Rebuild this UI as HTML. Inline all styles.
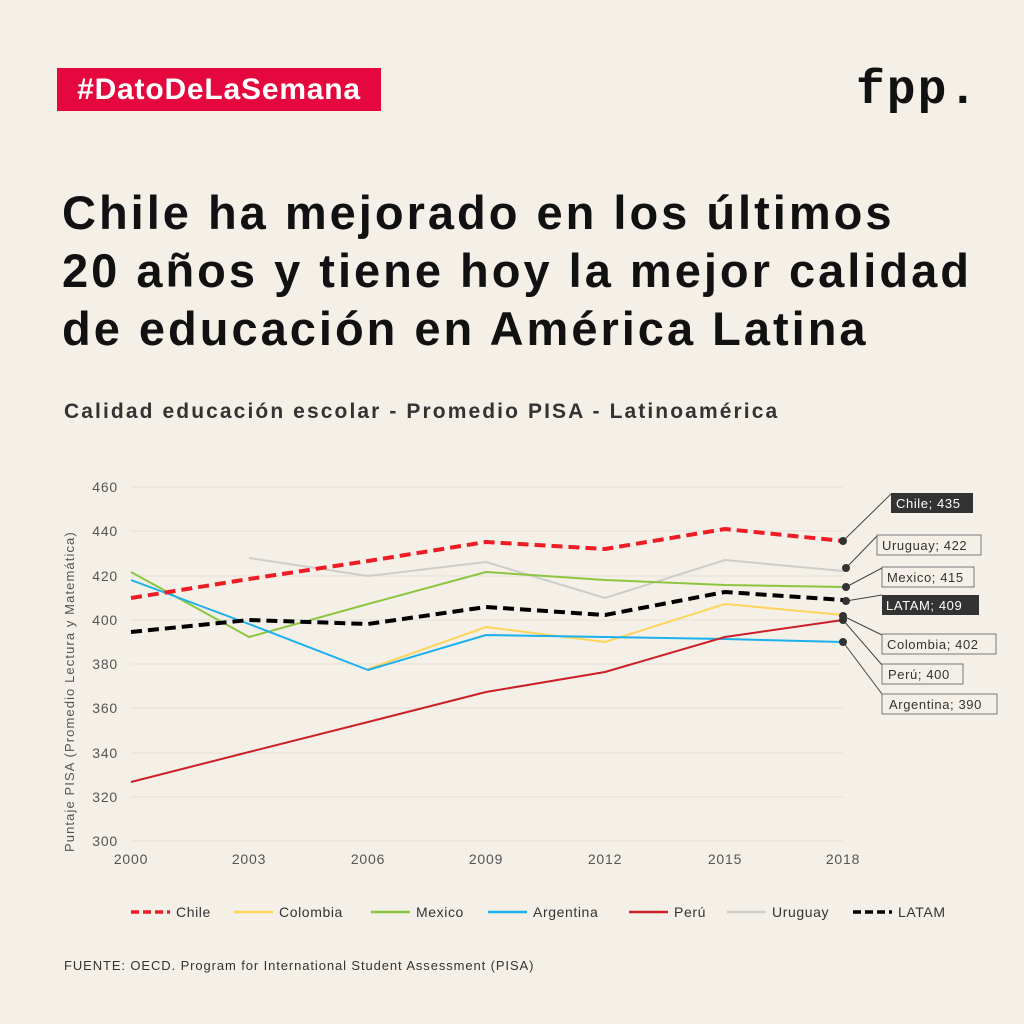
<!DOCTYPE html>
<html><head><meta charset="utf-8"><style>
body{margin:0;width:1024px;height:1024px;background:#f4f0e8;font-family:"Liberation Sans",sans-serif;position:relative;overflow:hidden}
.tag{position:absolute;left:57px;top:68px;width:324px;height:43px;background:#e5083f;color:#fff;font-weight:bold;font-size:30px;letter-spacing:0.8px;line-height:43px;text-align:center}
.logo{position:absolute;left:856px;top:64px;font-family:"Liberation Mono",monospace;font-weight:bold;font-size:48px;letter-spacing:2px;color:#111}
h1{position:absolute;left:62px;top:184px;margin:0;font-size:47px;letter-spacing:3px;line-height:58px;font-weight:bold;color:#111;white-space:nowrap}
.sub{position:absolute;left:64px;top:400px;font-size:21px;letter-spacing:2.1px;font-weight:bold;color:#333;white-space:nowrap}
.src{position:absolute;left:64px;top:958px;font-size:13px;letter-spacing:0.9px;color:#333;white-space:nowrap}
</style></head><body>
<div class="tag">#DatoDeLaSemana</div>
<div class="logo">fpp.</div>
<h1>Chile ha mejorado en los últimos<br>20 años y tiene hoy la mejor calidad<br>de educación en América Latina</h1>
<div class="sub">Calidad educación escolar - Promedio PISA - Latinoamérica</div>
<svg width="1024" height="1024" style="position:absolute;left:0;top:0" font-family="Liberation Sans, sans-serif">
<g stroke="#e4e0d8" stroke-width="1">
<line x1="131" x2="843" y1="487" y2="487"/><line x1="131" x2="843" y1="531" y2="531"/><line x1="131" x2="843" y1="576" y2="576"/><line x1="131" x2="843" y1="620" y2="620"/><line x1="131" x2="843" y1="664" y2="664"/><line x1="131" x2="843" y1="708" y2="708"/><line x1="131" x2="843" y1="753" y2="753"/><line x1="131" x2="843" y1="797" y2="797"/><line x1="131" x2="843" y1="841" y2="841"/>
</g>
<g font-size="14" letter-spacing="0.8" fill="#555" text-anchor="end">
<text x="118" y="492">460</text><text x="118" y="536">440</text><text x="118" y="581">420</text><text x="118" y="625">400</text><text x="118" y="669">380</text><text x="118" y="713">360</text><text x="118" y="758">340</text><text x="118" y="802">320</text><text x="118" y="846">300</text>
</g>
<g font-size="14" letter-spacing="0.8" fill="#555" text-anchor="middle">
<text x="131" y="864">2000</text><text x="249" y="864">2003</text><text x="368" y="864">2006</text><text x="486" y="864">2009</text><text x="605" y="864">2012</text><text x="725" y="864">2015</text><text x="843" y="864">2018</text>
</g>
<text transform="translate(74,852) rotate(-90)" font-size="13" letter-spacing="1.1" fill="#555">Puntaje PISA (Promedio Lectura y Matemática)</text>
<g fill="none" stroke-linejoin="round">
<polyline stroke="#cfcdca" stroke-width="2" points="249,558 368,576 486,562 605,598 725,560 843,571"/>
<polyline stroke="#ffd45a" stroke-width="2" points="368,669 486,627 605,642 725,604 843,615"/>
<polyline stroke="#8cc63f" stroke-width="2" points="131,572 249,637 368,604 486,572 605,580 725,585 843,587"/>
<polyline stroke="#1ab0ec" stroke-width="2" points="131,580 249,624 368,670 486,635 605,637 725,639 843,642"/>
<polyline stroke="#cc2027" stroke-width="2" points="131,782 249,752 368,722 486,692 605,672 725,637 843,620"/>
<polyline stroke="#000" stroke-width="4" stroke-dasharray="11,6" points="131,632 249,620 368,624 486,607 605,615 725,592 843,600"/>
<polyline stroke="#ee1c25" stroke-width="4" stroke-dasharray="11,6" points="131,598 249,579 368,561 486,542 605,549 725,529 843,541"/>
</g>
<g stroke="#444" stroke-width="1" fill="none">
<polyline points="843,541 891,494"/><polyline points="846,568 878,535"/><polyline points="846,587 882,568"/><polyline points="846,601 882,595"/><polyline points="843,616 882,635"/><polyline points="843,620 882,665"/><polyline points="843,642 882,694"/>
</g>
<g fill="#333">
<circle cx="843" cy="541" r="4"/><circle cx="846" cy="568" r="4"/><circle cx="846" cy="587" r="4"/><circle cx="846" cy="601" r="4"/><circle cx="843" cy="616" r="4"/><circle cx="843" cy="620" r="4"/><circle cx="843" cy="642" r="4"/>
</g>
<g font-size="13" letter-spacing="0.6">
<rect x="891" y="493" width="82" height="20" fill="#333"/><text x="896" y="508" fill="#fff">Chile; 435</text>
<rect x="877" y="535" width="104" height="20" fill="#f4f0e8" stroke="#777"/><text x="882" y="550" fill="#333">Uruguay; 422</text>
<rect x="882" y="567" width="92" height="20" fill="#f4f0e8" stroke="#777"/><text x="887" y="582" fill="#333">Mexico; 415</text>
<rect x="882" y="595" width="97" height="20" fill="#333"/><text x="886" y="610" fill="#fff">LATAM; 409</text>
<rect x="882" y="634" width="114" height="20" fill="#f4f0e8" stroke="#777"/><text x="887" y="649" fill="#333">Colombia; 402</text>
<rect x="882" y="664" width="81" height="20" fill="#f4f0e8" stroke="#777"/><text x="888" y="679" fill="#333">Perú; 400</text>
<rect x="882" y="694" width="115" height="20" fill="#f4f0e8" stroke="#777"/><text x="889" y="709" fill="#333">Argentina; 390</text>
</g>
<g stroke-width="2.5">
<line x1="131" x2="170" y1="912" y2="912" stroke="#ee1c25" stroke-width="3.5" stroke-dasharray="8,4"/>
<line x1="234" x2="273" y1="912" y2="912" stroke="#ffd45a"/>
<line x1="371" x2="410" y1="912" y2="912" stroke="#8cc63f"/>
<line x1="488" x2="527" y1="912" y2="912" stroke="#1ab0ec"/>
<line x1="629" x2="668" y1="912" y2="912" stroke="#cc2027"/>
<line x1="727" x2="766" y1="912" y2="912" stroke="#cfcdca"/>
<line x1="853" x2="892" y1="912" y2="912" stroke="#000" stroke-width="3.5" stroke-dasharray="8,4"/>
</g>
<g font-size="14" letter-spacing="0.6" fill="#333">
<text x="176" y="917">Chile</text><text x="279" y="917">Colombia</text><text x="416" y="917">Mexico</text><text x="533" y="917">Argentina</text><text x="674" y="917">Perú</text><text x="772" y="917">Uruguay</text><text x="898" y="917">LATAM</text>
</g>
</svg>
<div class="src">FUENTE: OECD. Program for International Student Assessment (PISA)</div>
</body></html>
